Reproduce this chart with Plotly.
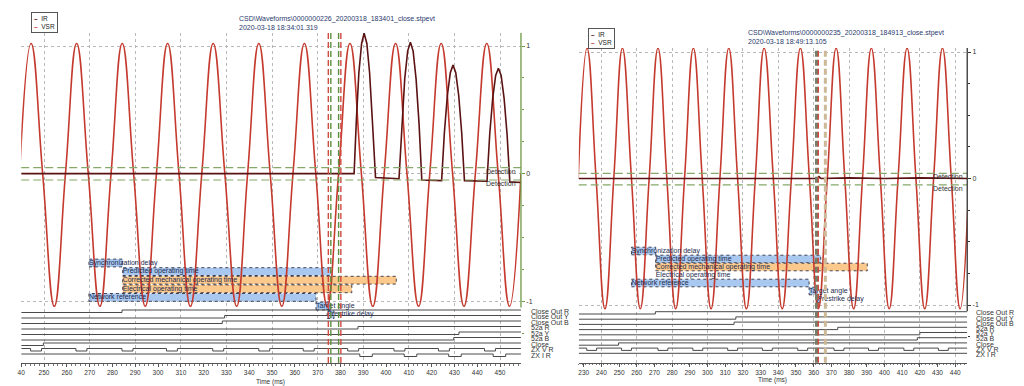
import plotly.graph_objects as go

# ======================= DATA =======================
left_title = ["CSD\\Waveforms\\0000000226_20200318_183401_close.stpevt", "2020-03-18 18:34:01.319"]
right_title = ["CSD\\Waveforms\\0000000235_20200318_184913_close.stpevt", "2020-03-18 18:49:13.105"]
series_names = ["IR", "VSR"]

# ---- left record: VSR (voltage) read at zero crossings / peaks / troughs ----
left_vsr_t = [239.3, 244.3, 249.4, 254.5, 259.4, 264.3, 269.4, 274.5, 279.4, 284.3, 289.3, 294.4,
              299.3, 304.2, 309.2, 314.2, 319.2, 324.2, 329.3, 334.5, 339.3, 344.2, 349.2, 354.3,
              359.2, 364.2, 369.2, 374.2, 379.2, 384.2, 389.2, 394.2, 399.2, 404.2, 409.2, 414.3,
              419.2, 424.2, 429.2, 434.2, 439.2, 444.2, 449.2, 454.2, 459.2]
left_vsr_v = [0.0, 1.02, 0.0, -1.04, 0.0, 1.02, 0.0, -1.04, 0.0, 1.02, 0.0, -1.04,
              0.0, 1.02, 0.0, -1.04, 0.0, 1.02, 0.0, -1.04, 0.0, 1.02, 0.0, -1.04,
              0.0, 1.02, 0.0, -1.04, 0.0, 1.02, 0.0, -1.04, 0.0, 1.02, 0.0, -1.04,
              0.0, 1.02, 0.0, -1.04, 0.0, 1.02, 0.0, -1.04, 0.0]
# ---- left record: IR (current) ----
left_ir_t = [240.0, 386.0, 387.0, 388.1, 389.3, 390.4, 391.6, 392.8, 394.0, 395.4,
             405.7, 406.9, 408.2, 409.5, 410.7, 411.9, 413.2, 414.5, 415.7,
             424.4, 425.6, 426.9, 428.2, 429.4, 430.6, 431.9, 433.2, 434.4,
             444.3, 445.5, 446.8, 448.1, 449.3, 450.5, 451.8, 453.1, 454.3, 459.2]
left_ir_v = [0.0, 0.0, 0.42, 0.79, 1.02, 1.10, 1.02, 0.79, 0.42, -0.03,
             -0.04, 0.39, 0.74, 0.96, 1.03, 0.96, 0.74, 0.39, -0.05,
             -0.055, 0.32, 0.61, 0.79, 0.85, 0.79, 0.61, 0.32, -0.055,
             -0.06, 0.31, 0.59, 0.77, 0.825, 0.77, 0.59, 0.31, -0.065, -0.07]

# ---- right record ----
right_vsr_t = [226.9, 231.9, 237.0, 242.0, 247.0, 251.9, 257.0, 262.0, 267.0, 272.0, 277.0, 282.0,
               287.0, 292.0, 297.0, 302.0, 307.0, 312.0, 317.0, 322.0, 327.0, 332.0, 337.2, 342.2,
               347.4, 352.5, 357.6, 362.6, 367.7, 372.7, 377.6, 382.6, 387.6, 392.6, 397.7, 402.7,
               407.7, 412.8, 417.8, 422.8, 427.8, 432.8, 437.8, 442.8, 447.8]
right_vsr_v = [0.0, 1.03, 0.0, -1.03, 0.0, 1.03, 0.0, -1.03, 0.0, 1.03, 0.0, -1.03,
               0.0, 1.03, 0.0, -1.03, 0.0, 1.03, 0.0, -1.03, 0.0, 1.03, 0.0, -1.03,
               0.0, 1.03, 0.0, -1.03, 0.0, 1.03, 0.0, -1.03, 0.0, 1.03, 0.0, -1.03,
               0.0, 1.03, 0.0, -1.03, 0.0, 1.03, 0.0, -1.03, 0.0]
right_ir_t = [226.9, 300.0, 361.8, 363.0, 364.2, 380.0, 400.0, 420.0, 447.8]
right_ir_v = [0.0, 0.0, 0.0, 0.015, 0.0, 0.005, 0.0, 0.005, 0.0]

# ---- digital channels ----
channel_names = ["Close Out R", "Close Out Y", "Close Out B", "52a R", "52a Y", "52a B",
                 "Close", "ZX V R", "ZX I R"]
left_step_t = [284.2, 329.2, 328.2, 387.7, 432.0, 429.7, 249.7]
right_step_t = [270.5, 316.0, 315.0, 373.6, 420.0, 418.6, 249.7]
left_zxv_start = [244.1, 264.0, 284.2, 303.7, 324.0, 344.2, 363.7, 383.2, 403.5, 423.0, 443.2]
left_zxv_len = 4.8
left_zxi_start = [388.5, 408.0, 427.5, 447.0]
left_zxi_len = 5.5
right_zxv_start = [231.7, 251.4, 272.0, 291.7, 311.4, 331.0, 351.0, 371.5, 391.0, 411.0, 430.5]
right_zxv_len = 5.6
right_zxi_start = []
right_zxi_len = 5.6

# ---- timing bars ----
bar_labels = ["Synchronization delay", "Predicted operating time", "Corrected mechanical operating time",
              "Electrical operating time", "Network reference", "Target angle", "Prestrike delay"]
left_bar_start = [269.7, 284.5, 284.5, 284.5, 269.7, 369.3, 374.2]
left_bar_end = [284.5, 375.7, 404.5, 385.0, 369.3, 375.7, 377.2]
left_bar_kind = ["blue", "blue", "orange", "orange", "blue", "blue", "blue"]
right_bar_start = [257.0, 270.7, 270.7, 270.7, 257.0, 357.4, 362.1]
right_bar_end = [270.7, 364.0, 390.3, 270.7, 357.4, 362.1, 363.6]
right_bar_kind = ["blue", "blue", "orange", "none", "blue", "blue", "blue"]

# ---- event markers & detection thresholds ----
left_marker_t = [374.7, 375.8, 379.2, 380.2]
left_marker_kind = ["red", "green", "green", "red"]
right_marker_t = [361.6, 362.6, 366.6]
right_marker_kind = ["grey", "red", "tan"]
left_detection = [0.047, -0.05]
right_detection = [0.041, -0.051]

# ---- axis ticks ----
left_xticks = [240, 250, 260, 270, 280, 290, 300, 310, 320, 330, 340, 350, 360, 370, 380, 390, 400,
               410, 420, 430, 440, 450]
left_xticklabels = ["40", "250", "260", "270", "280", "290", "300", "310", "320", "330", "340", "350",
                    "360", "370", "380", "390", "400", "410", "420", "430", "440", "450"]
right_xticks = [230, 240, 250, 260, 270, 280, 290, 300, 310, 320, 330, 340, 350, 360, 370, 380, 390,
                400, 410, 420, 430, 440]
right_xticklabels = ["230", "240", "250", "260", "270", "280", "290", "300", "310", "320", "330", "340",
                     "350", "360", "370", "380", "390", "400", "410", "420", "430", "440"]
yticks = [1, 0, -1]
yticklabels = ["1", "0", "-1"]

# ======================= LAYOUT / STYLE =======================
W, H = 1024, 386
FONT = "Liberation Sans, Arial, sans-serif"
C_VSR = "#c53a2e"
C_IR = "#5a1212"
SERIES_COLOR = {"IR": C_IR, "VSR": C_VSR}
FILL = {"blue": "#a8c8ef", "orange": "#fbc98c"}
MARK = {"red": ("#d24a40", 1.4), "green": ("#5f8f3e", 1.4), "grey": ("#72806a", 3.0),
        "tan": ("#cdb898", 3.0)}

PANELS = {
    "L": dict(px_x0=17.3, px_x1=519, px_top=33, px_bot=363, px_zero=173.6, px_unit=127.6,
              xrange=[240, 459.2], row_px0=312.5, row_step=5.5, row_rise=2.5,
              bar_px0=263.0, bar_step=8.6, bar_h=7.8, label_px=527, grid0=250,
              title_px=(234, 19, 27.5), legend_px=(27, 12), axis_color="#6e9a45",
              timetitle_px=(268, 381.5), det_px=(171, 183.5), xa="x", ya="y", xg="x3"),
    "R": dict(px_x0=577, px_x1=967, px_top=48, px_bot=362.7, px_zero=178.5, px_unit=126.5,
              xrange=[227.2, 446.8], row_px0=314.0, row_step=5.2, row_rise=2.3,
              bar_px0=251.0, bar_step=8.0, bar_h=7.6, label_px=974, grid0=240,
              title_px=(745, 33, 42), legend_px=(586, 28), axis_color="#333333",
              timetitle_px=(772, 380), det_px=(176, 188), xa="x2", ya="y2", xg="x4"),
}


def yu(p, px):
    return (p["px_zero"] - px) / p["px_unit"]


fig = go.Figure()
annotations = []
shapes = []
layout = {}


def add_panel(key, title, vsr_t, vsr_v, ir_t, ir_v, step_t, zxv_s, zxv_l, zxi_s, zxi_l,
              b_s, b_e, b_k, m_t, m_k, det, xticks, xlabels):
    p = PANELS[key]
    xa, ya = p["xa"], p["ya"]
    x0r, x1r = p["xrange"]
    ytop = yu(p, p["px_top"])
    ybot = yu(p, p["px_bot"])

    # timing bars (below the waveforms)
    for i, (s, e, k) in enumerate(zip(b_s, b_e, b_k)):
        yc = yu(p, p["bar_px0"] + i * p["bar_step"])
        hh = p["bar_h"] / p["px_unit"] / 2
        if k != "none" and e > s:
            fig.add_trace(go.Scatter(x=[s, e, e, s, s], y=[yc - hh, yc - hh, yc + hh, yc + hh, yc - hh],
                                     mode="lines", fill="toself", fillcolor=FILL[k],
                                     line=dict(color="#303040", width=0.9, dash="dot"),
                                     xaxis=xa, yaxis=ya, showlegend=False, hoverinfo="skip"))

    # digital channels
    for i, name in enumerate(channel_names):
        low = yu(p, p["row_px0"] + i * p["row_step"])
        high = low + p["row_rise"] / p["px_unit"]
        if i < len(step_t):
            xs, ys = [x0r, step_t[i], x1r], [low, high, high]
        else:
            starts, ln = (zxv_s, zxv_l) if name == "ZX V R" else (zxi_s, zxi_l)
            xs, ys = [x0r], [high]
            for s in starts:
                xs += [s, s + ln]
                ys += [low, high]
            xs.append(x1r)
            ys.append(high)
        fig.add_trace(go.Scatter(x=xs, y=ys, mode="lines", line=dict(color="#4a4a4a", width=1, shape="hv"),
                                 xaxis=xa, yaxis=ya, showlegend=False, hoverinfo="skip"))
        annotations.append(dict(x=p["label_px"] / W, xref="paper", y=low + 0.008, yref=ya, text=name,
                                showarrow=False, xanchor="left", yanchor="middle",
                                font=dict(family=FONT, size=7, color="#333")))

    # waveforms
    fig.add_trace(go.Scatter(x=vsr_t, y=vsr_v, mode="lines", name="VSR",
                             line=dict(color=C_VSR, width=1.6, shape="spline", smoothing=1.3),
                             xaxis=xa, yaxis=ya, showlegend=False, hoverinfo="skip"))
    fig.add_trace(go.Scatter(x=ir_t, y=ir_v, mode="lines", name="IR",
                             line=dict(color=C_IR, width=1.6),
                             xaxis=xa, yaxis=ya, showlegend=False, hoverinfo="skip"))

    # bar labels
    for i, (lab, s) in enumerate(zip(bar_labels, b_s)):
        yc = yu(p, p["bar_px0"] + i * p["bar_step"])
        fig.add_trace(go.Scatter(x=[s], y=[yc], mode="text", text=[lab], textposition="middle right",
                                 textfont=dict(family=FONT, size=7, color="#1d2b4f"),
                                 xaxis=xa, yaxis=ya, showlegend=False, hoverinfo="skip"))

    # grid helper axis trace
    fig.add_trace(go.Scatter(x=[x0r], y=[0], mode="markers", marker=dict(opacity=0),
                             xaxis=p["xg"], yaxis=ya, showlegend=False, hoverinfo="skip"))

    # markers
    for t, k in zip(m_t, m_k):
        col, wdt = MARK[k]
        shapes.append(dict(type="line", xref=xa, yref=ya + " domain", x0=t, x1=t, y0=0, y1=1,
                           line=dict(color=col, width=wdt, dash="6px,3px")))
    # detection thresholds
    for lv, lpx in zip(det, p["det_px"]):
        shapes.append(dict(type="line", xref=xa + " domain", yref=ya, x0=0, x1=1, y0=lv, y1=lv,
                           line=dict(color="#86a86a", width=1.2, dash="8px,4px")))
        annotations.append(dict(x=0.995, xref=xa + " domain", y=yu(p, lpx), yref=ya, text="Detection",
                                showarrow=False, xanchor="right", yanchor="middle",
                                font=dict(family=FONT, size=7, color="#333")))
    # right-hand value axis line
    shapes.append(dict(type="line", xref=xa + " domain", yref=ya, x0=1, x1=1, y0=-1.05, y1=ytop,
                       line=dict(color=p["axis_color"], width=1.3)))

    # titles
    tx, ty1, ty2 = p["title_px"]
    for txt, ty in zip(title, (ty1, ty2)):
        annotations.append(dict(x=tx / W, xref="paper", y=1 - ty / H, yref="paper", text=txt,
                                showarrow=False, xanchor="left", yanchor="middle",
                                font=dict(family=FONT, size=7, color="#2a3a6e")))
    ttx, tty = p["timetitle_px"]
    annotations.append(dict(x=ttx / W, xref="paper", y=1 - tty / H, yref="paper", text="Time (ms)",
                            showarrow=False, xanchor="center", yanchor="middle",
                            font=dict(family=FONT, size=6.5, color="#333")))

    # legend box (series swatches + names)
    lx, ly = p["legend_px"]
    legend_text = "<br>".join(
        "<span style='color:%s'><b>&#8211;</b></span>  %s" % (SERIES_COLOR[n], n) for n in series_names)
    annotations.append(dict(x=lx / W, xref="paper", y=1 - ly / H, yref="paper", text=legend_text,
                            showarrow=False, xanchor="left", yanchor="top", align="left",
                            bgcolor="white", bordercolor="#555", borderwidth=1, borderpad=2,
                            font=dict(family=FONT, size=6.5, color="#222")))

    xdom = [p["px_x0"] / W, p["px_x1"] / W]
    ydom = [1 - p["px_bot"] / H, 1 - p["px_top"] / H]
    axname = "xaxis" if xa == "x" else "xaxis" + xa[1:]
    yname = "yaxis" if ya == "y" else "yaxis" + ya[1:]
    gname = "xaxis" + p["xg"][1:]
    layout[axname] = dict(domain=xdom, range=p["xrange"], anchor=ya, tickmode="array",
                          tickvals=xticks, ticktext=xlabels, ticks="outside", ticklen=3,
                          tickcolor="#555", showline=True, linecolor="#555", linewidth=1,
                          showgrid=False, zeroline=False,
                          tickfont=dict(family=FONT, size=6.5, color="#333"),
                          minor=dict(tickmode="linear", tick0=x0r, dtick=2, ticks="outside",
                                     ticklen=1.5, tickcolor="#777", showgrid=False))
    layout[gname] = dict(overlaying=xa, anchor=ya, range=p["xrange"], tickmode="linear",
                         tick0=p["grid0"], dtick=20, showgrid=True, gridcolor="#b8b8b8",
                         griddash="dot", gridwidth=1, showticklabels=False, ticks="",
                         showline=False, zeroline=False)
    layout[yname] = dict(domain=ydom, range=[ybot, ytop], anchor=xa, side="right",
                         tickmode="array", tickvals=yticks, ticktext=yticklabels,
                         ticks="outside", ticklen=3, tickcolor=p["axis_color"],
                         showgrid=True, gridcolor="#b8b8b8", griddash="dot", zeroline=False,
                         showline=False, tickfont=dict(family=FONT, size=7, color="#333"),
                         minor=dict(tick0=0, dtick=0.25, ticks="outside", ticklen=2,
                                    tickcolor=p["axis_color"], showgrid=False))


add_panel("L", left_title, left_vsr_t, left_vsr_v, left_ir_t, left_ir_v, left_step_t,
          left_zxv_start, left_zxv_len, left_zxi_start, left_zxi_len,
          left_bar_start, left_bar_end, left_bar_kind, left_marker_t, left_marker_kind,
          left_detection, left_xticks, left_xticklabels)
add_panel("R", right_title, right_vsr_t, right_vsr_v, right_ir_t, right_ir_v, right_step_t,
          right_zxv_start, right_zxv_len, right_zxi_start, right_zxi_len,
          right_bar_start, right_bar_end, right_bar_kind, right_marker_t, right_marker_kind,
          right_detection, right_xticks, right_xticklabels)

fig.update_layout(width=W, height=H, margin=dict(l=0, r=0, t=0, b=0), autosize=False,
                  paper_bgcolor="white", plot_bgcolor="white", font=dict(family=FONT, size=7),
                  showlegend=False, hovermode=False, annotations=annotations, shapes=shapes, **layout)
fig.write_html("out.html", config={"displayModeBar": False, "staticPlot": True},
               post_script="document.body.style.margin='0px';")
